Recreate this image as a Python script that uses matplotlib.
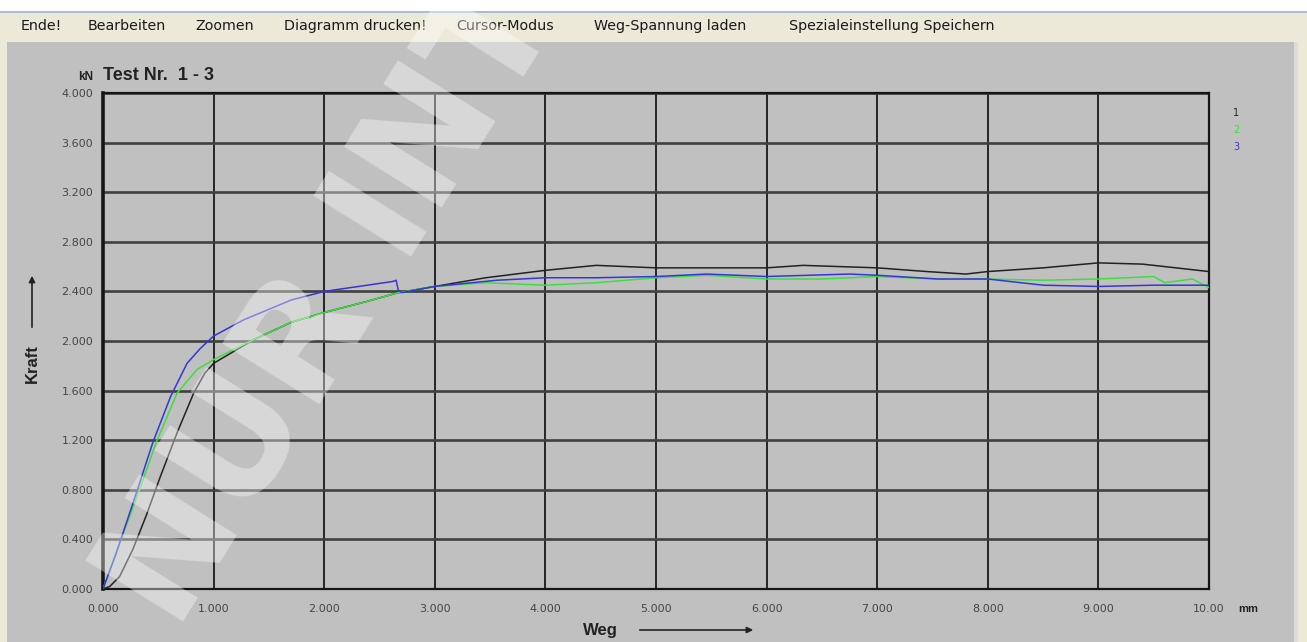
import matplotlib
matplotlib.use("Agg")
import matplotlib.pyplot as plt
import matplotlib.patches as patches

W, H = 1307, 642

# Kraft-Weg curves (Weg in mm, Kraft in kN)
weg_1 = [0, 0.06, 0.15, 0.27, 0.39, 0.52, 0.67, 0.82, 0.92, 1.0, 1.36, 1.7, 2.0, 2.39, 2.67,
         3.0, 3.46, 4.0, 4.46, 5.0, 5.46, 6.0, 6.33, 7.0, 7.45, 7.8, 8.0, 8.5, 9.0, 9.4, 10.0]
kraft_1 = [0, 0.02, 0.10, 0.32, 0.59, 0.91, 1.26, 1.58, 1.74, 1.82, 2.01, 2.15, 2.23, 2.32, 2.39,
           2.44, 2.51, 2.57, 2.61, 2.59, 2.59, 2.59, 2.61, 2.59, 2.56, 2.54, 2.56, 2.59, 2.63, 2.62, 2.56]

weg_2 = [0, 0.15, 0.33, 0.48, 0.67, 0.85, 1.0, 1.36, 1.7, 2.0, 2.39, 2.67, 3.0, 3.46, 4.0, 4.46,
         5.0, 5.46, 6.0, 6.5, 7.0, 7.55, 8.0, 8.5, 9.0, 9.5, 9.6, 9.85, 10.0]
kraft_2 = [0, 0.37, 0.80, 1.18, 1.58, 1.77, 1.85, 2.01, 2.15, 2.23, 2.32, 2.39, 2.44, 2.47, 2.45, 2.47,
           2.51, 2.53, 2.50, 2.50, 2.52, 2.50, 2.50, 2.49, 2.50, 2.52, 2.47, 2.50, 2.43]

weg_3 = [0, 0.12, 0.30, 0.45, 0.61, 0.76, 0.88, 1.0, 1.27, 1.7, 2.0, 2.39, 2.62, 2.65, 2.67, 2.70,
         3.0, 3.56, 4.0, 4.46, 5.0, 5.46, 6.0, 6.75, 7.0, 7.55, 8.0, 8.5, 9.0, 9.5, 10.0]
kraft_3 = [0, 0.29, 0.77, 1.18, 1.55, 1.82, 1.94, 2.04, 2.17, 2.33, 2.40, 2.45, 2.48, 2.49, 2.41, 2.39,
           2.44, 2.49, 2.51, 2.51, 2.52, 2.54, 2.52, 2.54, 2.53, 2.50, 2.50, 2.45, 2.44, 2.45, 2.45]

serien = ["1", "2", "3"]
farben = ["#222222", "#3ede3e", "#3636d6"]

x_ticks = [0, 1, 2, 3, 4, 5, 6, 7, 8, 9, 10]
x_labels = ["0.000", "1.000", "2.000", "3.000", "4.000", "5.000",
            "6.000", "7.000", "8.000", "9.000", "10.00"]
y_ticks = [0, 0.4, 0.8, 1.2, 1.6, 2.0, 2.4, 2.8, 3.2, 3.6, 4.0]
y_labels = ["0.000", "0.400", "0.800", "1.200", "1.600", "2.000",
            "2.400", "2.800", "3.200", "3.600", "4.000"]

menu = ["Ende!", "Bearbeiten", "Zoomen", "Diagramm drucken!", "Cursor-Modus",
        "Weg-Spannung laden", "Spezialeinstellung Speichern"]
menu_x = [21, 88, 195, 284, 456, 594, 789]


def fx(px):
    return px / W


def fy(py):
    return 1 - py / H


fig = plt.figure(figsize=(W / 100, H / 100), dpi=100, facecolor="#ece9d8")

# window parts (behind the axes)
def rect(x0, y0, w, h, color):
    fig.add_artist(patches.Rectangle((fx(x0), fy(y0 + h)), w / W, h / H,
                                     transform=fig.transFigure, facecolor=color,
                                     edgecolor="none", zorder=-10))

rect(0, 0, W, 11, "white")
rect(0, 11, W, 1.5, "#a9bcd8")
rect(7, 42, 1287, H - 42, "#c0c0c0")
rect(1294, 42, 4, H - 42, "#dcdcdc")

for name, mx in zip(menu, menu_x):
    fig.text(fx(mx), fy(26), name, fontsize=10.3, color="#1a1a1a", ha="left", va="center",
             family="DejaVu Sans")

ax = fig.add_axes([fx(103), fy(589), fx(1209 - 103), (589 - 93) / H])
ax.set_facecolor("#c0c0c0")

for wx, ky, c in zip([weg_1, weg_2, weg_3], [kraft_1, kraft_2, kraft_3], farben):
    ax.plot(wx, ky, color=c, lw=1.1, zorder=3)

ax.set_xlim(0, 10)
ax.set_ylim(0, 4)
ax.set_xticks(x_ticks)
ax.set_xticklabels(x_labels)
ax.set_yticks(y_ticks)
ax.set_yticklabels(y_labels)
ax.tick_params(length=0, labelsize=8, labelcolor="#454545")
ax.tick_params(axis="y", pad=7)
ax.tick_params(axis="x", pad=11)
ax.xaxis.grid(True, color="#252525", lw=1.4)
ax.yaxis.grid(True, color="#404040", lw=1.9)
ax.set_axisbelow(True)
for s in ax.spines.values():
    s.set_color("#151515")
    s.set_linewidth(1.6)
ax.spines["left"].set_linewidth(2.6)

# titles and axis names
fig.text(fx(93), fy(80), "kN", fontsize=8.5, fontweight="bold", color="#222222",
         ha="right", va="baseline", family="Liberation Sans")
fig.text(fx(103), fy(80), "Test Nr.  1 - 3", fontsize=13, fontweight="bold", color="#222222",
         ha="left", va="baseline", family="Liberation Sans")
fig.text(fx(32), fy(364), "Kraft", fontsize=12, fontweight="bold", color="#222222",
         rotation=90, ha="center", va="center", family="Liberation Sans")
fig.text(fx(600), fy(630), "Weg", fontsize=12, fontweight="bold", color="#222222",
         ha="center", va="center", family="Liberation Sans")
fig.text(fx(1238), fy(609), "mm", fontsize=8, fontweight="bold", color="#222222",
         ha="left", va="center", family="Liberation Sans")

fig.add_artist(patches.FancyArrowPatch((fx(32), fy(330)), (fx(32), fy(273)),
                                       transform=fig.transFigure, arrowstyle="-|>",
                                       mutation_scale=9, color="#222222", lw=1.2))
fig.add_artist(patches.FancyArrowPatch((fx(637), fy(630)), (fx(756), fy(630)),
                                       transform=fig.transFigure, arrowstyle="-|>",
                                       mutation_scale=9, color="#222222", lw=1.2))

# series numbers on the right
for i, (name, c) in enumerate(zip(serien, farben)):
    fig.text(fx(1236), fy(113 + i * 17), name, fontsize=7, color=c, ha="center", va="center")

# watermark
fig.text(fx(140), fy(610), "NUR INTERN", fontsize=112, fontweight="bold", color="white",
         alpha=0.38, rotation=58, rotation_mode="anchor", ha="left", va="center",
         family="DejaVu Sans", zorder=20)

fig.savefig("out.png", dpi=100, facecolor=fig.get_facecolor())
